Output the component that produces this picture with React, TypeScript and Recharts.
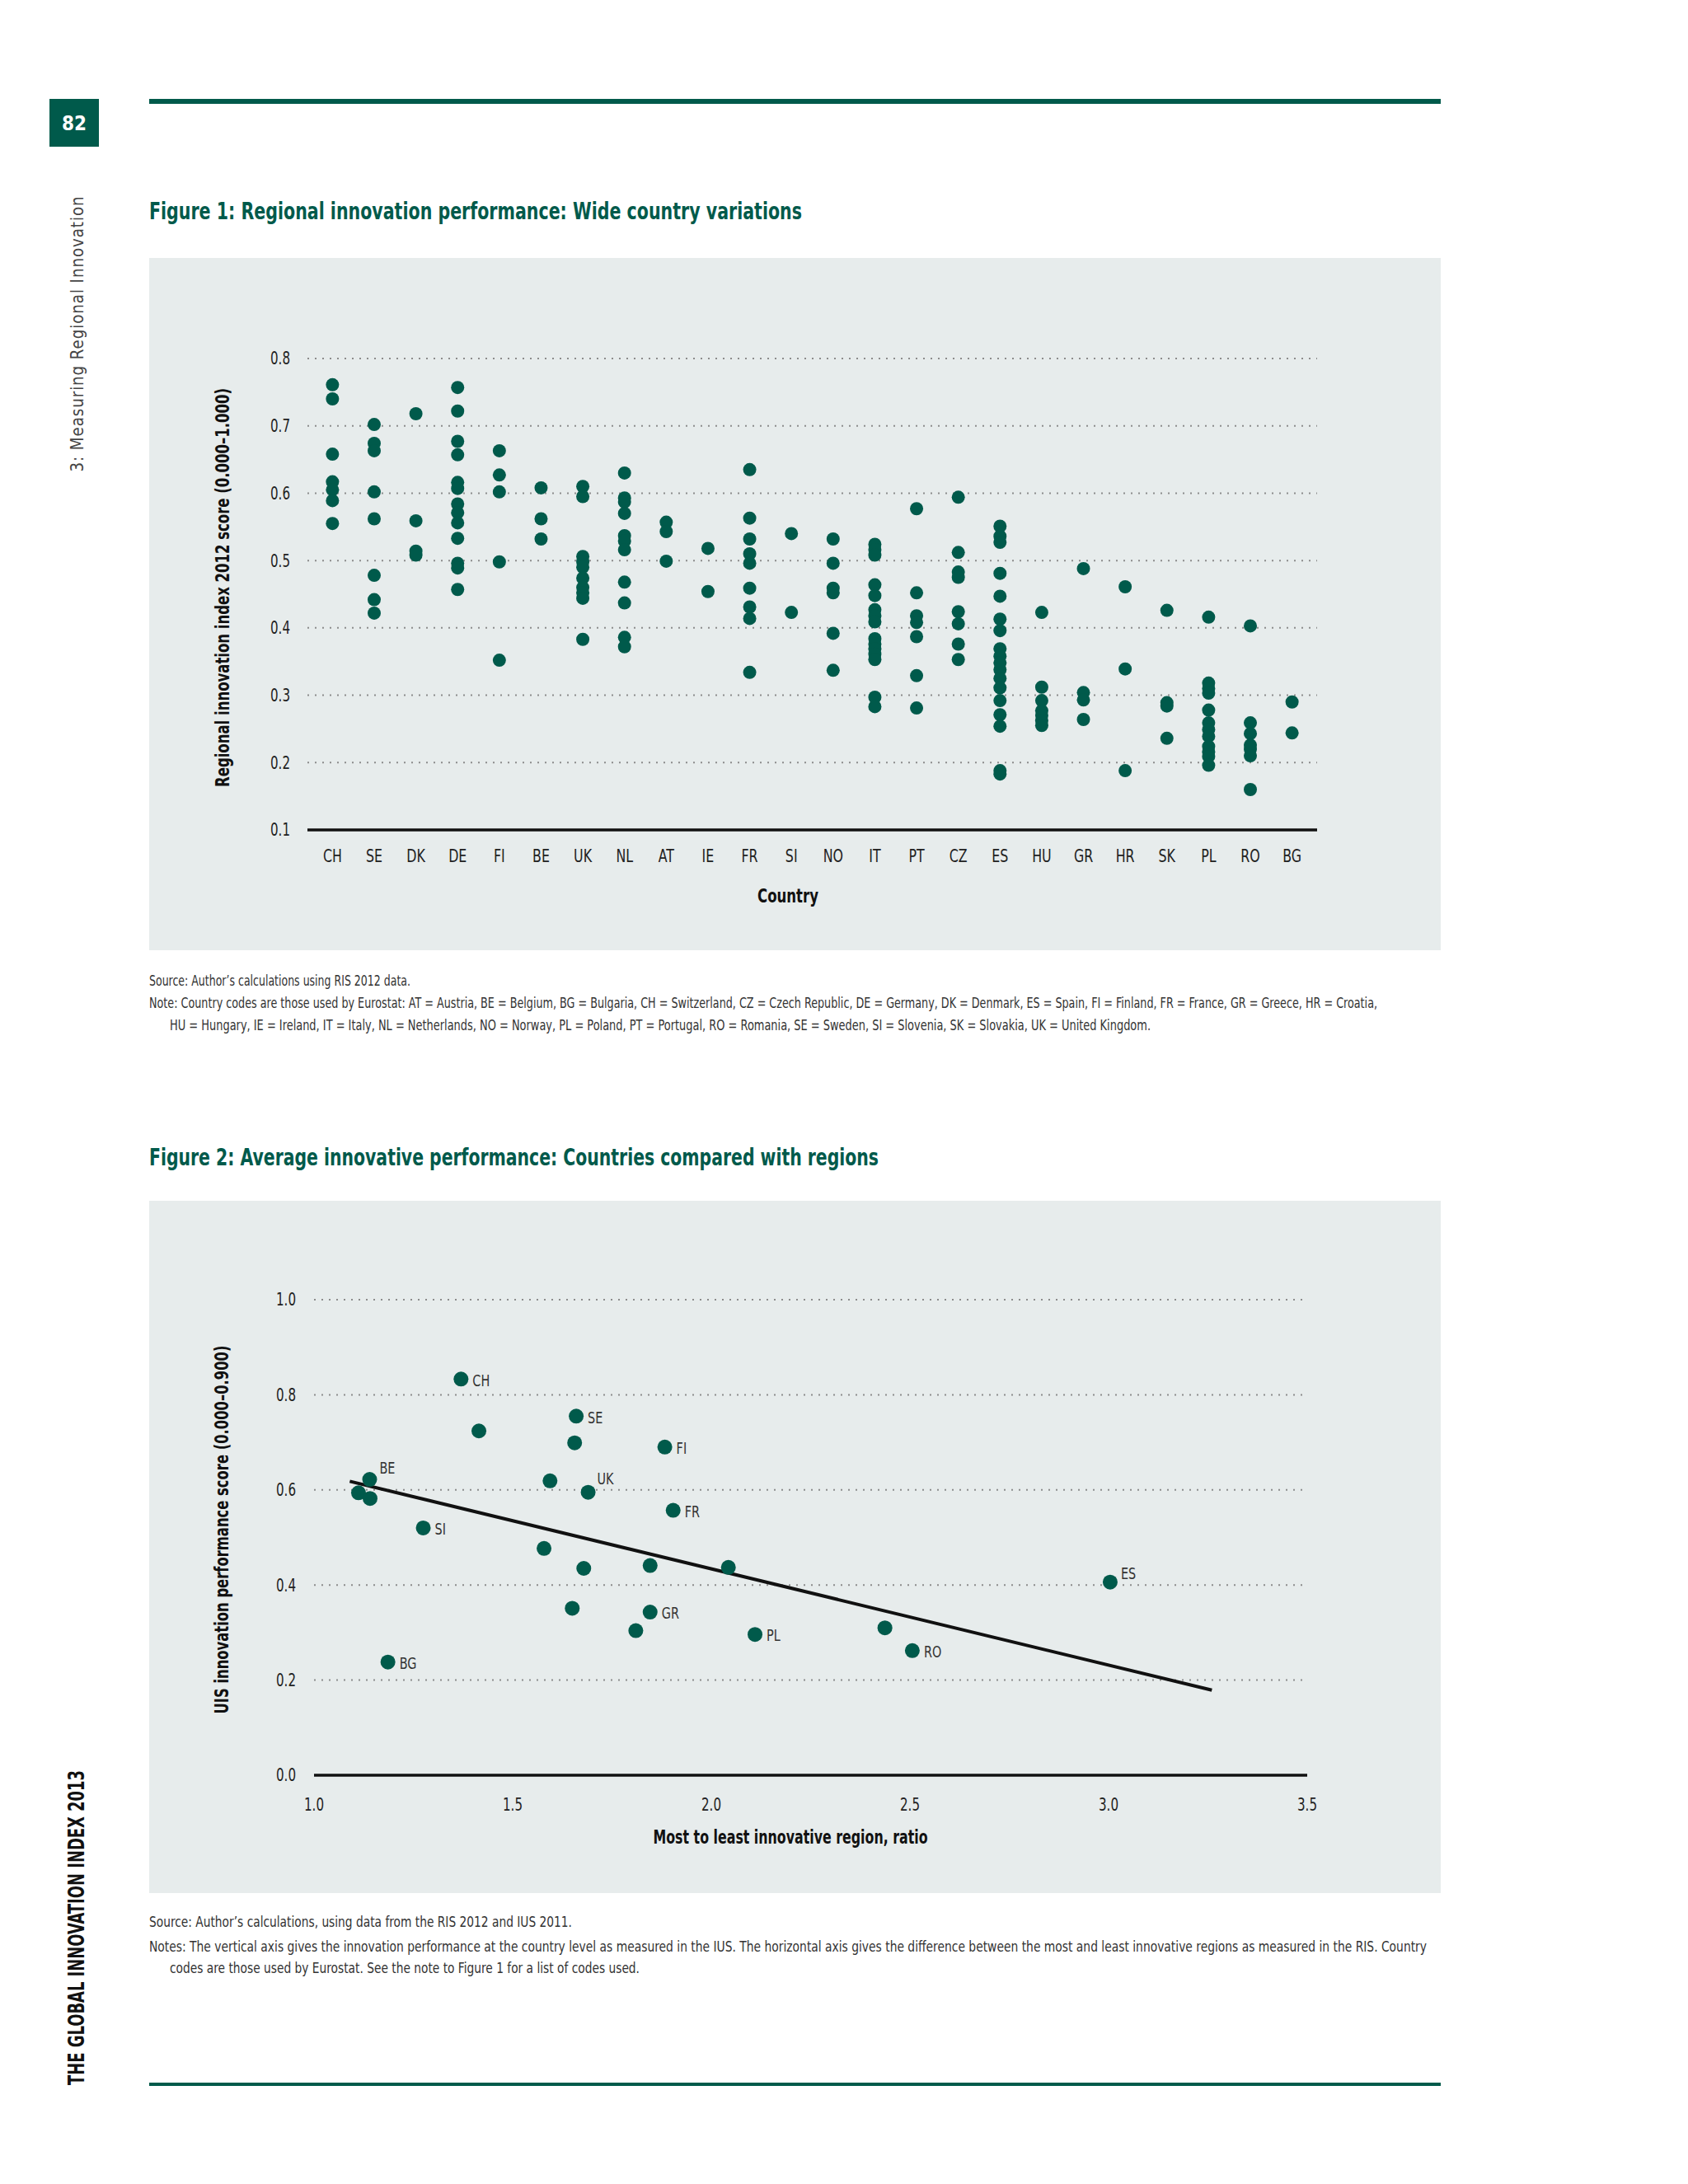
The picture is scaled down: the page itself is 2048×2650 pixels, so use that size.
import React from "react"
import {
  ScatterChart,
  Scatter,
  XAxis,
  YAxis,
  CartesianGrid,
  ReferenceLine
} from "recharts"

const GREEN = "#005a4b"
const PANEL = "#e7ecec"
const FONT = "'Liberation Sans Narrow', 'DejaVu Sans Condensed', 'Open Sans', sans-serif"

// Figure 1: regional scores per country (RIS 2012)
const countries = ["CH", "SE", "DK", "DE", "FI", "BE", "UK", "NL", "AT", "IE", "FR", "SI", "NO", "IT", "PT", "CZ", "ES", "HU", "GR", "HR", "SK", "PL", "RO", "BG"]
const regionScores = [
  [0.761, 0.740, 0.658, 0.617, 0.605, 0.589, 0.555],
  [0.702, 0.674, 0.663, 0.602, 0.562, 0.478, 0.442, 0.422],
  [0.718, 0.559, 0.514, 0.508],
  [0.757, 0.722, 0.677, 0.657, 0.616, 0.607, 0.584, 0.571, 0.556, 0.533, 0.496, 0.489, 0.457],
  [0.663, 0.627, 0.602, 0.498, 0.352],
  [0.608, 0.562, 0.532],
  [0.610, 0.595, 0.506, 0.498, 0.490, 0.474, 0.460, 0.452, 0.444, 0.383],
  [0.630, 0.593, 0.587, 0.570, 0.537, 0.529, 0.516, 0.468, 0.437, 0.386, 0.372],
  [0.557, 0.543, 0.499],
  [0.518, 0.454],
  [0.635, 0.563, 0.532, 0.510, 0.496, 0.459, 0.431, 0.414, 0.334],
  [0.540, 0.423],
  [0.532, 0.496, 0.459, 0.452, 0.392, 0.337],
  [0.524, 0.516, 0.508, 0.464, 0.448, 0.427, 0.418, 0.409, 0.384, 0.376, 0.369, 0.361, 0.353, 0.297, 0.283],
  [0.577, 0.452, 0.418, 0.408, 0.387, 0.329, 0.281],
  [0.594, 0.512, 0.483, 0.475, 0.424, 0.406, 0.376, 0.353],
  [0.551, 0.536, 0.527, 0.481, 0.447, 0.413, 0.396, 0.369, 0.358, 0.348, 0.338, 0.325, 0.311, 0.292, 0.271, 0.254, 0.188, 0.183],
  [0.423, 0.312, 0.292, 0.277, 0.270, 0.262, 0.255],
  [0.488, 0.304, 0.293, 0.264],
  [0.461, 0.339, 0.188],
  [0.426, 0.289, 0.284, 0.236],
  [0.416, 0.318, 0.310, 0.303, 0.278, 0.259, 0.249, 0.239, 0.224, 0.216, 0.209, 0.196],
  [0.403, 0.259, 0.243, 0.226, 0.220, 0.210, 0.160],
  [0.290, 0.244]
]
const fig1Ticks = [0.1, 0.2, 0.3, 0.4, 0.5, 0.6, 0.7, 0.8]

// Figure 2: country IUS score vs regional ratio
const ratioLabels = ["CH", "", "SE", "", "FI", "BE", "", "", "", "UK", "FR", "SI", "", "", "", "", "", "GR", "", "PL", "BG", "", "RO", "ES"]
const ratioValues = [1.37, 1.415, 1.66, 1.656, 1.883, 1.14, 1.112, 1.141, 1.594, 1.69, 1.904, 1.275, 1.579, 1.679, 1.846, 2.043, 1.65, 1.846, 1.81, 2.11, 1.186, 2.437, 2.506, 3.004]
const iusScores = [0.833, 0.724, 0.755, 0.699, 0.69, 0.622, 0.594, 0.582, 0.619, 0.595, 0.557, 0.52, 0.477, 0.435, 0.441, 0.437, 0.351, 0.343, 0.304, 0.296, 0.238, 0.31, 0.262, 0.406]
const trendX = [1.09, 3.26]
const trendY = [0.618, 0.179]
const fig2XTicks = [1.0, 1.5, 2.0, 2.5, 3.0, 3.5]
const fig2YTicks = [0.0, 0.2, 0.4, 0.6, 0.8, 1.0]

const fig1Points = regionScores.flatMap((vals, i) => vals.map(v => ({ x: i, y: v })))
const fig2Points = ratioValues.map((x, i) => ({ x, y: iusScores[i], label: ratioLabels[i] }))

// labels that sit above-right of their dot
const labelOffsets: Record<string, [number, number]> = {
  BE: [12, -14],
  UK: [11, -17],
  ES: [13, -11]
}

// condensed look: squeeze glyphs horizontally
const SQUEEZE = 0.8

function CondText({ x, y, anchor = "start", baseline = "auto", dy, size = 20, fill = "#222", children }: any) {
  return (
    <text
      transform={`translate(${x},${y}) scale(${SQUEEZE},1)`}
      textAnchor={anchor}
      dominantBaseline={baseline}
      dy={dy}
      fontSize={size}
      fill={fill}
      fontFamily={FONT}
    >
      {children}
    </text>
  )
}

const countryTick = (p: any) => (
  <CondText x={p.x} y={p.y} anchor="middle" dy="0.71em" size={22}>{countries[p.payload.value]}</CondText>
)
const numXTick = (p: any) => (
  <CondText x={p.x} y={p.y} anchor="middle" dy="0.71em" size={21}>{Number(p.payload.value).toFixed(1)}</CondText>
)
const numYTick = (p: any) => (
  <CondText x={p.x} y={p.y} anchor="end" dy="0.355em" size={21}>{Number(p.payload.value).toFixed(1)}</CondText>
)

function Fig1Dot(props: any) {
  return <circle cx={props.cx} cy={props.cy} r={8} fill={GREEN} />
}

function Fig2Dot(props: any) {
  const label = props.payload?.label
  const [dx, dy] = labelOffsets[label] || [14, 1]
  return (
    <g>
      <circle cx={props.cx} cy={props.cy} r={9} fill={GREEN} />
      {label ? (
        <CondText x={props.cx + dx} y={props.cy + dy} baseline="central" size={20} fill="#333">{label}</CondText>
      ) : null}
    </g>
  )
}

function Fig1() {
  return (
    <ScatterChart width={1567} height={840} margin={{ top: 122, right: 150, bottom: 106, left: 132 }}>
      <CartesianGrid vertical={false} stroke="#8c8c8c" strokeWidth={2} strokeDasharray="2 7" />
      <XAxis
        type="number"
        dataKey="x"
        domain={[-0.6, 23.6]}
        ticks={countries.map((_, i) => i)}
        interval={0}
        axisLine={{ stroke: "#111", strokeWidth: 3.5 }}
        tickLine={false}
        tickMargin={17}
        height={40}
        tick={countryTick}
      />
      <YAxis
        type="number"
        dataKey="y"
        domain={[0.1, 0.8]}
        ticks={fig1Ticks}
        interval={0}
        axisLine={false}
        tickLine={false}
        tickMargin={15}
        width={60}
        tick={numYTick}
      />
      <Scatter data={fig1Points} shape={Fig1Dot} isAnimationActive={false} />
    </ScatterChart>
  )
}

function Fig2() {
  return (
    <ScatterChart width={1567} height={840} margin={{ top: 120, right: 162, bottom: 103, left: 140 }}>
      <CartesianGrid vertical={false} stroke="#8c8c8c" strokeWidth={2} strokeDasharray="2 7" />
      <XAxis
        type="number"
        dataKey="x"
        domain={[1, 3.5]}
        ticks={fig2XTicks}
        interval={0}
        axisLine={{ stroke: "#111", strokeWidth: 3.5 }}
        tickLine={false}
        tickMargin={22}
        height={40}
        tick={numXTick}
      />
      <YAxis
        type="number"
        dataKey="y"
        domain={[0, 1]}
        ticks={fig2YTicks}
        interval={0}
        axisLine={false}
        tickLine={false}
        tickMargin={16}
        width={60}
        tick={numYTick}
      />
      <ReferenceLine
        segment={[{ x: trendX[0], y: trendY[0] }, { x: trendX[1], y: trendY[1] }]}
        stroke="#111"
        strokeWidth={4}
      />
      <Scatter data={fig2Points} shape={Fig2Dot} isAnimationActive={false} />
    </ScatterChart>
  )
}

function VText({ x, y, len, children, size, weight, fill, spacing = 0 }: any) {
  return (
    <text
      x={x}
      y={y}
      transform={`rotate(-90 ${x} ${y})`}
      textAnchor="middle"
      dominantBaseline="central"
      fontSize={size}
      fontWeight={weight}
      fill={fill}
      fontFamily={FONT}
      letterSpacing={spacing}
      textLength={len}
      lengthAdjust="spacingAndGlyphs"
    >
      {children}
    </text>
  )
}

function Line({ x, y, len, size = 18, children, weight = 400, fill = "#333" }: any) {
  return (
    <text x={x} y={y} fontSize={size} fontWeight={weight} fill={fill} fontFamily={FONT} textLength={len} lengthAdjust="spacingAndGlyphs">
      {children}
    </text>
  )
}

export default function App() {
  return (
    <div style={{ position: "absolute", left: 0, top: 0, width: 2048, height: 2650, background: "#fff" }}>
      <svg width={2048} height={2650} style={{ position: "absolute", left: 0, top: 0 }}>
        <rect x={60} y={120} width={60} height={58} fill={GREEN} />
        <text x={90} y={150} textAnchor="middle" dominantBaseline="central" fontSize={24} fontWeight={700} fill="#fff" fontFamily={FONT}>82</text>
        <rect x={181} y={120} width={1567} height={6} fill={GREEN} />
        <rect x={181} y={2527} width={1567} height={4} fill={GREEN} />
        <VText x={93} y={405} len={335} size={22} weight={400} fill="#444" spacing={1}>3: Measuring Regional Innovation</VText>
        <VText x={93} y={2339} len={382} size={26} weight={700} fill="#111">THE GLOBAL INNOVATION INDEX 2013</VText>

        <Line x={181} y={266} len={792} size={29} weight={700} fill={GREEN}>Figure 1: Regional innovation performance: Wide country variations</Line>
        <rect x={181} y={313} width={1567} height={840} fill={PANEL} />
        <VText x={270} y={713} len={484} size={23} weight={700} fill="#111">Regional innovation index 2012 score (0.000–1.000)</VText>
        <text x={956} y={1087} textAnchor="middle" dominantBaseline="central" fontSize={23} fontWeight={700} fill="#111" fontFamily={FONT} textLength={74} lengthAdjust="spacingAndGlyphs">Country</text>
        <Line x={181} y={1196} len={317}>Source: Author’s calculations using RIS 2012 data.</Line>
        <Line x={181} y={1223} len={1490}>Note: Country codes are those used by Eurostat: AT = Austria, BE = Belgium, BG = Bulgaria, CH = Switzerland, CZ = Czech Republic, DE = Germany, DK = Denmark, ES = Spain, FI = Finland, FR = France, GR = Greece, HR = Croatia,</Line>
        <Line x={206} y={1250} len={1190}>HU = Hungary, IE = Ireland, IT = Italy, NL = Netherlands, NO = Norway, PL = Poland, PT = Portugal, RO = Romania, SE = Sweden, SI = Slovenia, SK = Slovakia, UK = United Kingdom.</Line>

        <Line x={181} y={1414} len={885} size={29} weight={700} fill={GREEN}>Figure 2: Average innovative performance: Countries compared with regions</Line>
        <rect x={181} y={1457} width={1567} height={840} fill={PANEL} />
        <VText x={269} y={1856} len={447} size={23} weight={700} fill="#111">UIS innovation performance score (0.000–0.900)</VText>
        <text x={959} y={2229} textAnchor="middle" dominantBaseline="central" fontSize={23} fontWeight={700} fill="#111" fontFamily={FONT} textLength={333} lengthAdjust="spacingAndGlyphs">Most to least innovative region, ratio</text>
        <Line x={181} y={2338} len={513}>Source: Author’s calculations, using data from the RIS 2012 and IUS 2011.</Line>
        <Line x={181} y={2368} len={1550}>Notes: The vertical axis gives the innovation performance at the country level as measured in the IUS. The horizontal axis gives the difference between the most and least innovative regions as measured in the RIS. Country</Line>
        <Line x={206} y={2394} len={570}>codes are those used by Eurostat. See the note to Figure 1 for a list of codes used.</Line>
      </svg>
      <div style={{ position: "absolute", left: 181, top: 313, width: 1567, height: 840 }}>
        <Fig1 />
      </div>
      <div style={{ position: "absolute", left: 181, top: 1457, width: 1567, height: 840 }}>
        <Fig2 />
      </div>
    </div>
  )
}
